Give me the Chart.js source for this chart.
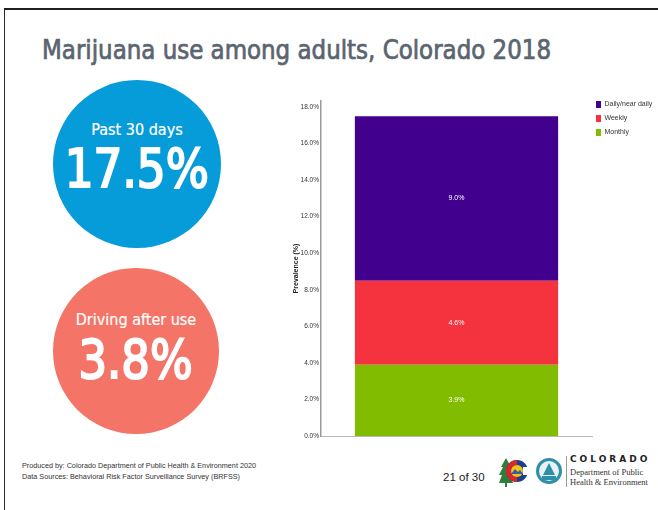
<!DOCTYPE html>
<html>
<head>
<meta charset="utf-8">
<script src="https://cdn.jsdelivr.net/npm/chart.js@4/dist/chart.umd.min.js"></script>
<style>
  html, body { margin: 0; padding: 0; background: #fff; }
  body { width: 658px; height: 510px; position: relative; overflow: hidden; }
  .frame { position: absolute; left: 4px; top: 8px; width: 700px; height: 560px;
           border-top: 2px solid #1e1e1e; border-left: 1px solid #2a2a2a; }
  .title { position: absolute; left: 42px; top: 37px; line-height: 27px; font-family: "DejaVu Sans Condensed", "DejaVu Sans", sans-serif;
           font-size: 26px; color: #5b6570; -webkit-text-stroke: 0.7px #5b6570; white-space: nowrap;
           transform-origin: 0 50%; display: inline-block; }
  .bubble { position: absolute; border-radius: 50%; color: #fff; text-align: center;
            font-family: "DejaVu Sans Condensed", "DejaVu Sans", sans-serif; }
  .bubble .cap { position: absolute; left: 0; right: 0; font-size: 16px; white-space: nowrap; -webkit-text-stroke: 0.2px #fff; }
  .bubble .big { position: absolute; left: 0; right: 0; font-size: 53px; white-space: nowrap; -webkit-text-stroke: 2px #fff; }
  .bubble .big span { display: inline-block; transform-origin: 50% 50%; }
  #chartBox { position: absolute; left: 280px; top: 95px; width: 378px; height: 355px; }
  .foot { position: absolute; left: 22px; font-family: "Liberation Sans", Arial, sans-serif; font-size: 7.5px; color: #333;
          white-space: nowrap; display: inline-block; transform-origin: 0 50%; }
  .page { position: absolute; left: 443px; top: 471px; font-family: "Liberation Sans Narrow", "Liberation Sans", sans-serif; font-size: 11.5px; color: #222; }
  .org1 { position: absolute; left: 570px; top: 454px; font-family: "DejaVu Sans", sans-serif; font-weight: bold; font-size: 9px; letter-spacing: 3px; color: #222; }
  .org2 { position: absolute; left: 570px; font-family: "Liberation Serif", serif; font-size: 8.5px; color: #333; white-space: nowrap; }
</style>
</head>
<body>
<div class="frame"></div>
<div class="title" id="title">Marijuana use among adults, Colorado 2018</div>

<div class="bubble" style="left:53px; top:80px; width:168px; height:168px; background:#069bd9;">
  <div class="cap" style="top:40px;">Past 30 days</div>
  <div class="big" style="top:58px;"><span id="big1">17.5%</span></div>
</div>
<div class="bubble" style="left:53px; top:268px; width:166px; height:166px; background:#f47467;">
  <div class="cap" style="top:42px;">Driving after use</div>
  <div class="big" style="top:61px;"><span id="big2">3.8%</span></div>
</div>

<div id="chartBox"><canvas id="c"></canvas></div>

<div class="foot" id="foot1" style="top:461px;">Produced by: Colorado Department of Public Health &amp; Environment 2020</div>
<div class="foot" id="foot2" style="top:472px;">Data Sources: Behavioral Risk Factor Surveillance Survey (BRFSS)</div>
<div class="page">21 of 30</div>

<svg style="position:absolute; left:498px; top:455px;" width="70" height="35" viewBox="0 0 70 35">
  <!-- tree -->
  <path d="M8 3 L13 12 L11 12 L15 20 L12 20 L15 28 L9 28 L9 32 L7 32 L7 28 L1 28 L4 20 L1 20 L5 12 L3 12 Z" fill="#2f7d3a"/>
  <!-- C ring -->
  <circle cx="19" cy="16" r="11" fill="#1d3f8f"/>
  <path d="M19 5 A11 11 0 0 0 19 27 L19 22 A6 6 0 0 1 19 10 Z" fill="#d8262e"/>
  <circle cx="19" cy="16" r="6" fill="#f5c20f"/>
  <path d="M13 19 L17 14 L20 17 L22 15 L25 19 Z" fill="#2f5faa"/>
  <rect x="25" y="12" width="6" height="8" fill="#fff"/>
  <!-- seal -->
  <circle cx="51" cy="16" r="13" fill="#2f8fa8"/>
  <circle cx="51" cy="16" r="10" fill="#e8f2f4"/>
  <path d="M45 20 L51 8 L57 20 Z" fill="#2f8fa8"/>
  <rect x="44" y="21" width="14" height="4" fill="#2f8fa8"/>
</svg>
<div style="position:absolute; left:566px; top:456px; width:1px; height:31px; background:#999;"></div>
<div class="org1">COLORADO</div>
<div class="org2" style="top:467px;">Department of Public</div>
<div class="org2" style="top:477px;">Health &amp; Environment</div>

<script>
// squeeze a text element horizontally to a given width
function fitWidth(id, w) {
  const el = document.getElementById(id);
  const s = w / el.getBoundingClientRect().width;
  el.style.transform = 'scaleX(' + s + ')';
}
fitWidth('title', 509);
fitWidth('big1', 144);
fitWidth('big2', 114);
fitWidth('foot1', 234);
fitWidth('foot2', 218);

// Prevalence of marijuana use frequency, stacked into one bar
const categories = ["Past 30 days"];
const monthly = [3.9];
const weekly = [4.6];
const dailyNearDaily = [9.0];
const seriesNames = ["Daily/near daily", "Weekly", "Monthly"];
const yTicks = [0, 2, 4, 6, 8, 10, 12, 14, 16, 18];

const narrow = "'Liberation Sans Narrow', 'Liberation Sans', Arial, sans-serif";

// writes each segment's value in its middle
const segmentLabels = {
  id: 'segmentLabels',
  afterDatasetsDraw(chart) {
    const ctx = chart.ctx;
    ctx.save();
    ctx.fillStyle = '#ffffff';
    ctx.font = "7px " + narrow;
    ctx.textAlign = 'center';
    ctx.textBaseline = 'middle';
    chart.data.datasets.forEach((ds, i) => {
      chart.getDatasetMeta(i).data.forEach((bar, j) => {
        const p = bar.getProps(['x', 'y', 'base'], true);
        ctx.fillText(ds.data[j].toFixed(1) + '%', p.x, (p.y + p.base) / 2);
      });
    });
    ctx.restore();
  }
};

// lifts the legend block so its first entry sits level with the axis top
const legendNudge = {
  id: 'legendNudge',
  afterLayout(chart) {
    const lg = chart.legend;
    lg.left -= 3; lg.right -= 3;
    lg.top -= 7; lg.bottom -= 7;
  }
};

new Chart(document.getElementById('c'), {
  type: 'bar',
  data: {
    labels: categories,
    datasets: [
      { label: seriesNames[2], data: monthly, backgroundColor: '#82bc00' },
      { label: seriesNames[1], data: weekly, backgroundColor: '#f5333f' },
      { label: seriesNames[0], data: dailyNearDaily, backgroundColor: '#42008f' }
    ]
  },
  options: {
    responsive: true,
    maintainAspectRatio: false,
    animation: false,
    categoryPercentage: 1,
    barPercentage: 0.75,
    layout: { padding: { top: 6, bottom: 14, left: 12, right: 0 } },
    plugins: {
      tooltip: { enabled: false },
      legend: {
        position: 'right',
        align: 'start',
        reverse: true,
        maxWidth: 66,
        labels: {
          boxWidth: 5, boxHeight: 7, padding: 7, color: '#333',
          font: { size: 7, family: narrow }
        }
      }
    },
    scales: {
      x: {
        stacked: true,
        ticks: { display: false },
        grid: { display: false, drawTicks: false },
        border: { display: true, color: '#b8b8b8', width: 1 },
        afterFit(s) { s.height = 0; }
      },
      y: {
        stacked: true,
        min: 0, max: 18.33,
        afterBuildTicks(s) { s.ticks = yTicks.map(v => ({ value: v })); },
        ticks: {
          padding: 2, color: '#333',
          font: { size: 6.5, family: narrow },
          callback: v => v.toFixed(1) + '%'
        },
        grid: { display: false, drawTicks: false },
        border: { display: true, color: '#9a9a9a', width: 1.5 },
        title: {
          display: true, text: 'Prevalence (%)', color: '#222',
          font: { size: 7, weight: 'bold', family: "'Liberation Sans', Arial, sans-serif" },
          padding: { top: 0, bottom: 1 }
        },
        afterFit(s) { s.width = 29; }
      }
    }
  },
  plugins: [segmentLabels, legendNudge]
});
</script>
</body>
</html>
